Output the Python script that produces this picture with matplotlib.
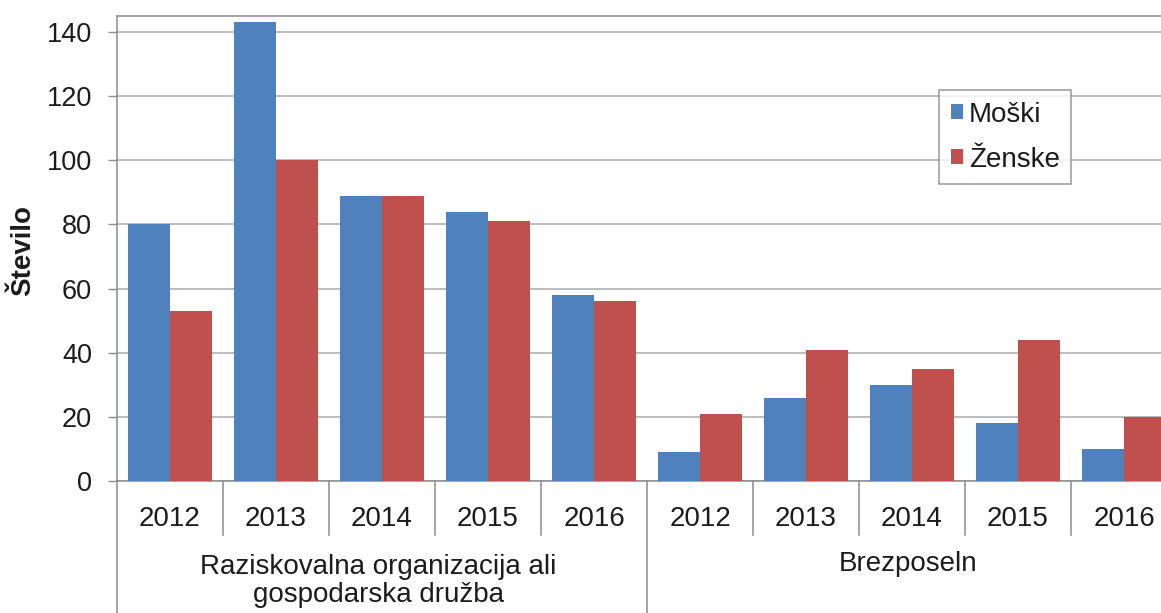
import matplotlib
matplotlib.use("Agg")
import matplotlib.pyplot as plt
from matplotlib.transforms import blended_transform_factory, offset_copy
import numpy as np

plt.rcParams['font.family'] = ['Liberation Sans', 'DejaVu Sans']

groups = ["Raziskovalna organizacija ali\ngospodarska družba", "Brezposeln"]
years = ["2012", "2013", "2014", "2015", "2016"]
moski = [80, 143, 89, 84, 58, 9, 26, 30, 18, 10]
zenske = [53, 100, 89, 81, 56, 21, 41, 35, 44, 20]
series_names = ["Moški", "Ženske"]
colors = ["#4F81BD", "#C0504D"]
y_ticks = [0, 20, 40, 60, 80, 100, 120, 140]

W, H = 1161, 613
fig = plt.figure(figsize=(W / 100, H / 100), dpi=100)
ax = fig.add_axes([117 / W, (H - 481) / H, 1060 / W, 465 / H])

n = len(moski)
x = np.arange(n)
bw = 0.396
ax.bar(x - bw / 2, moski, bw, color=colors[0], label=series_names[0], zorder=3)
ax.bar(x + bw / 2, zenske, bw, color=colors[1], label=series_names[1], zorder=3)

ax.set_xlim(-0.5, n - 0.5)
ax.set_ylim(0, 145)
ax.set_yticks(y_ticks)
ax.yaxis.grid(True, color="#bdbdbd", linewidth=1.4, zorder=0)
ax.set_axisbelow(True)

fs = 20
tcol = "#1c1c1c"
ax.tick_params(axis='y', direction='out', length=6.5, width=1, color="#8c8c8c",
               labelsize=19.5, pad=11.5, labelcolor=tcol)
ax.set_xticks(x)
ax.set_xticklabels(years * len(groups), fontsize=fs, color=tcol)
ax.tick_params(axis='x', length=0, pad=18)

for s in ['left', 'top', 'bottom', 'right']:
    ax.spines[s].set_color("#8c8c8c")
    ax.spines[s].set_linewidth(1.1)

fig.text(23.5 / W, (H - 250) / H, "Število", rotation=90, fontsize=fs,
         fontweight='bold', ha='center', va='center', color=tcol)

# category separators
tr = blended_transform_factory(ax.transData, fig.transFigure)
for b in np.arange(-0.5, n, 1.0):
    is_group = (abs((b + 0.5) % len(years)) < 1e-9)
    y0 = 0.0 if is_group else (H - 535) / H
    ax.plot([b, b], [y0, (H - 481) / H], transform=tr, color="#8c8c8c",
            linewidth=1.1, clip_on=False, zorder=1)

# group labels
tr_off = offset_copy(tr, fig=fig, x=-4, y=0, units='dots')
group_tops = [554, 551]
for gi, g in enumerate(groups):
    cx = gi * len(years) + (len(years) - 1) / 2
    ax.text(cx, (H - group_tops[gi]) / H, g, transform=tr_off, ha='center',
            va='top', fontsize=fs, linespacing=1.1, color=tcol)

leg = ax.legend(loc='upper left', bbox_to_anchor=(939 / W, (H - 90) / H),
                bbox_transform=fig.transFigure, fontsize=fs, frameon=True,
                fancybox=False, edgecolor="#7f7f7f", borderaxespad=0,
                handlelength=0.45, handleheight=0.45, handletextpad=0.2,
                labelspacing=0.68, borderpad=0.42)
leg.get_frame().set_linewidth(1.1)
for t in leg.get_texts():
    t.set_color(tcol)

fig.savefig("out.png", dpi=100)
